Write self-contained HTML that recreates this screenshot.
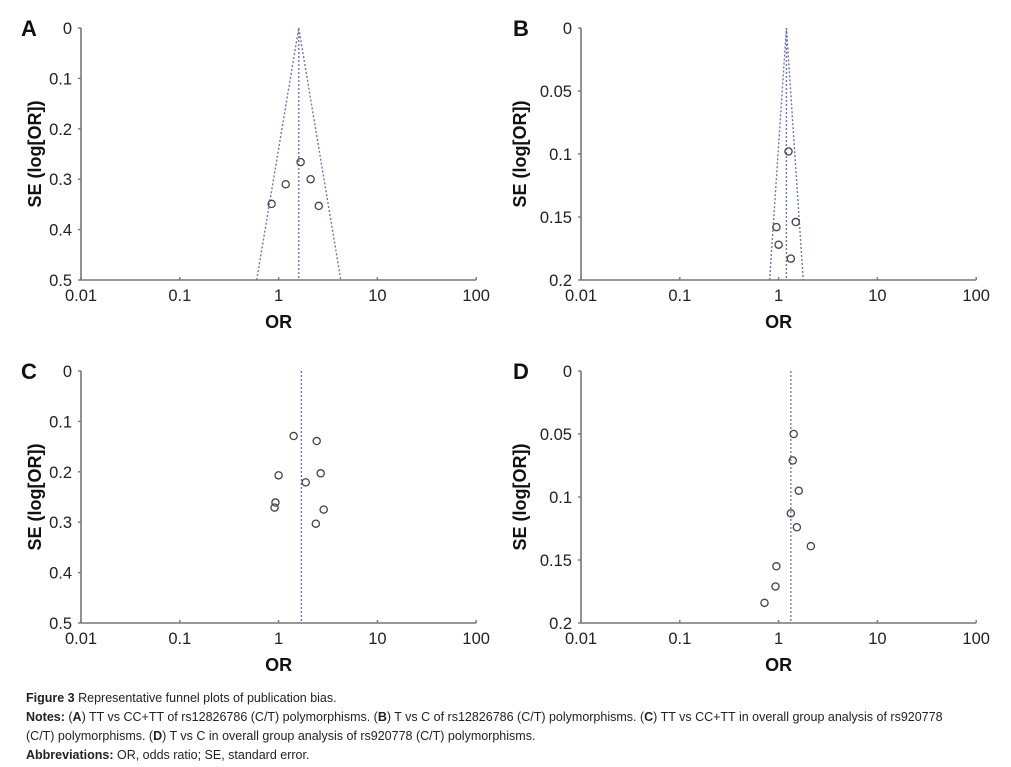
<!DOCTYPE html>
<html><head><meta charset="utf-8"><style>
html,body{margin:0;padding:0;background:#fff;}
body{width:1011px;height:767px;overflow:hidden;position:relative;font-family:"Liberation Sans",sans-serif;}
#cap{position:absolute;left:26px;top:689px;font-size:12.5px;line-height:19px;color:#222;}
#cap b{font-weight:bold;}
</style></head><body>
<svg id="chart" width="1011" height="685" style="position:absolute;left:0;top:0"></svg>
<div id="cap">
<div><b>Figure 3</b> Representative funnel plots of publication bias.</div>
<div><b>Notes:</b> (<b>A</b>) TT vs CC+TT of rs12826786 (C/T) polymorphisms. (<b>B</b>) T vs C of rs12826786 (C/T) polymorphisms. (<b>C</b>) TT vs CC+TT in overall group analysis of rs920778<br>(C/T) polymorphisms. (<b>D</b>) T vs C in overall group analysis of rs920778 (C/T) polymorphisms.</div>
<div><b>Abbreviations:</b> OR, odds ratio; SE, standard error.</div>
</div>
<script>
const xTicks=[0.01,0.1,1,10,100];
const xTickLabels=["0.01","0.1","1","10","100"];
const yTicksA=[0,0.1,0.2,0.3,0.4,0.5];
const yTicksB=[0,0.05,0.1,0.15,0.2];
const orA=[1.67,1.18,2.11,0.85,2.55];
const seA=[0.266,0.31,0.30,0.349,0.353];
const pooledA=1.6;
const orB=[1.26,0.95,1.49,1.0,1.33];
const seB=[0.098,0.158,0.154,0.172,0.183];
const pooledB=1.2;
const orC=[1.42,2.43,1.0,2.67,1.88,0.93,0.91,2.86,2.38];
const seC=[0.129,0.139,0.207,0.203,0.221,0.261,0.271,0.275,0.303];
const pooledC=1.7;
const orD=[1.42,1.39,1.6,1.33,1.53,2.12,0.95,0.93,0.72];
const seD=[0.050,0.071,0.095,0.113,0.124,0.139,0.155,0.171,0.184];
const pooledD=1.33;

const svg=document.getElementById('chart');
const NS='http://www.w3.org/2000/svg';
function mk(t,a,p){const e=document.createElementNS(NS,t);for(const k in a)e.setAttribute(k,a[k]);(p||svg).appendChild(e);return e;}

function panel(key,ox,oy,yTicks,ymax,ors,ses,pooled,funnel,titleOff,labOff){
  const g=mk('g',{});
  
  
  const x0=ox, dec=98.8, yTop=oy, yBot=oy+252;
  const X=v=>x0+(Math.log10(v)+2)*dec;
  const Y=v=>yTop+(v/ymax)*(yBot-yTop);
  const lab=mk('text',{x:ox-labOff,y:oy+8,'font-size':22,'font-weight':'bold',fill:'#111'},g);
  lab.textContent=key;
  
  
  const ya=mk('line',{x1:x0,y1:yTop,x2:x0,y2:yBot,stroke:'#777','stroke-width':1.6},g);
  
  
  const xa=mk('line',{x1:x0,y1:yBot,x2:X(100),y2:yBot,stroke:'#777','stroke-width':1.6},g);
  
  
  yTicks.forEach(t=>{
    mk('line',{x1:x0-3,y1:Y(t),x2:x0,y2:Y(t),stroke:'#777','stroke-width':1.4},g);
    const tx=mk('text',{x:x0-9,y:Y(t)+6,'font-size':16.5,'text-anchor':'end',fill:'#222'},g);
    tx.textContent=String(t);
    
    
  });
  xTicks.forEach((t,i)=>{
    mk('line',{x1:X(t),y1:yBot-3,x2:X(t),y2:yBot,stroke:'#777','stroke-width':1.4},g);
    const tx=mk('text',{x:X(t),y:yBot+21,'font-size':16.5,'text-anchor':'middle',fill:'#222'},g);
    tx.textContent=xTickLabels[i];
    
    
  });
  const xt=mk('text',{x:X(1),y:yBot+48,'font-size':18,'font-weight':'bold','text-anchor':'middle',fill:'#111'},g);
  xt.textContent='OR';
  
  
  const cy=(yTop+yBot)/2;
  const tx0=ox-titleOff;
  const yt=mk('text',{x:tx0,y:cy,'font-size':18,'font-weight':'bold','text-anchor':'middle',fill:'#111',transform:`rotate(-90 ${tx0} ${cy})`},g);
  yt.textContent='SE (log[OR])';
  
  
  const dash={stroke:'#6a74c4','stroke-width':1.4,'stroke-dasharray':'2 2',fill:'none'};
  const cl=mk('line',Object.assign({x1:X(pooled),y1:yTop,x2:X(pooled),y2:yBot},dash),g);
  
  
  if(funnel){
    const w=Math.exp(1.96*ymax);
    const fl=mk('polyline',Object.assign({points:`${X(pooled/w)},${yBot} ${X(pooled)},${yTop} ${X(pooled*w)},${yBot}`},dash),g);
    
    
  }
  ors.forEach((o,i)=>{
    const c=mk('circle',{cx:X(o),cy:Y(ses[i]),r:3.6,fill:'none',stroke:'#444','stroke-width':1.3},g);
    
    
  });
}
panel('A',81,28,yTicksA,0.5,orA,seA,pooledA,true,40,60);
panel('B',581,28,yTicksB,0.2,orB,seB,pooledB,true,55,68);
panel('C',81,371,yTicksA,0.5,orC,seC,pooledC,false,40,60);
panel('D',581,371,yTicksB,0.2,orD,seD,pooledD,false,55,68);
</script>
</body></html>
